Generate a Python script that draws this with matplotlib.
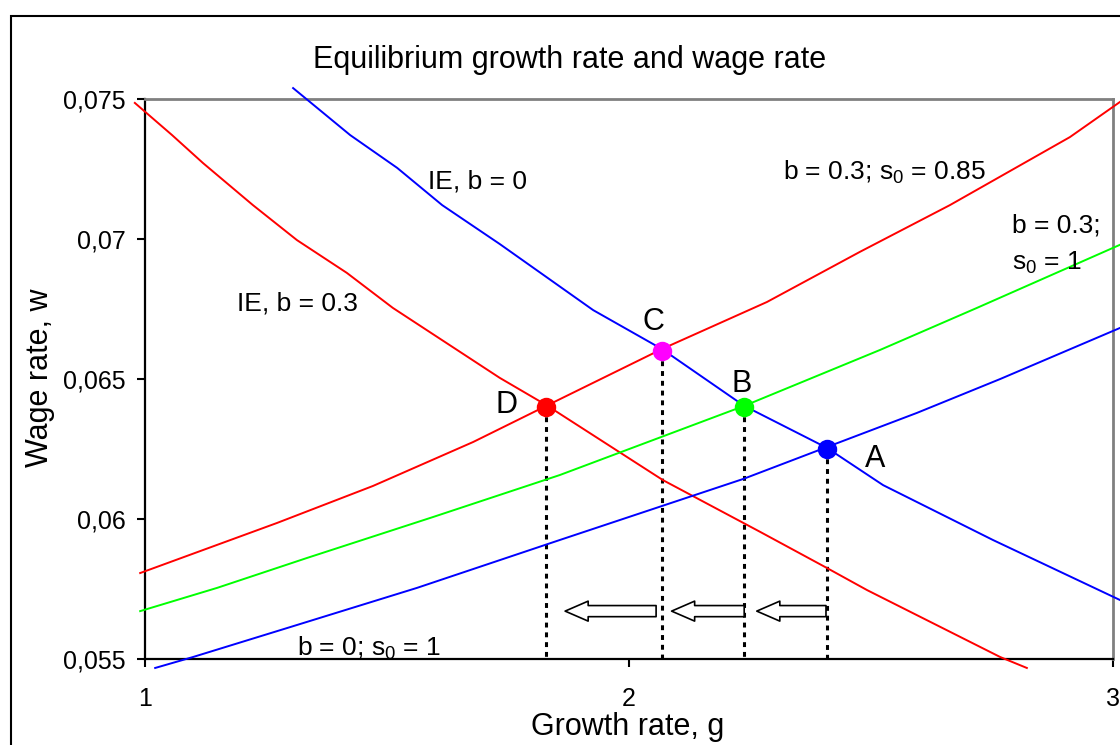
import matplotlib
matplotlib.use('Agg')
import matplotlib.pyplot as plt
from matplotlib.patches import Rectangle

# Curves (growth rate g, wage rate w)
ie_b03_g = [0.979, 1.056, 1.120, 1.223, 1.314, 1.417, 1.512, 1.733, 1.829, 2.070, 2.271, 2.409, 2.492, 2.767, 2.822]
ie_b03_w = [0.07486, 0.07371, 0.07271, 0.07121, 0.06996, 0.06879, 0.06754, 0.06504, 0.06407, 0.06139, 0.05954, 0.05825, 0.05746, 0.05507, 0.05468]

ie_b0_g = [1.306, 1.424, 1.521, 1.614, 1.733, 1.926, 2.068, 2.238, 2.409, 2.525, 2.752, 3.014]
ie_b0_w = [0.07539, 0.07371, 0.07254, 0.07121, 0.06982, 0.06746, 0.06607, 0.06404, 0.06254, 0.06121, 0.05925, 0.05711]

s085_g = [0.990, 1.273, 1.471, 1.678, 1.829, 2.068, 2.285, 2.477, 2.663, 2.911, 3.014]
s085_w = [0.05807, 0.05986, 0.06118, 0.06275, 0.06404, 0.06607, 0.06775, 0.06954, 0.07121, 0.07364, 0.07489]

b03_s1_g = [0.990, 1.149, 1.335, 1.595, 1.857, 2.238, 2.519, 2.719, 3.014]
b03_s1_w = [0.05671, 0.05754, 0.05861, 0.06007, 0.06157, 0.06404, 0.06604, 0.06754, 0.06979]

b0_s1_g = [1.021, 1.099, 1.300, 1.562, 1.857, 2.236, 2.409, 2.595, 2.767, 3.014]
b0_s1_w = [0.05468, 0.05507, 0.05614, 0.05754, 0.05925, 0.06143, 0.06257, 0.06379, 0.06500, 0.06682]

# equilibrium points
pt_names = ['D', 'C', 'B', 'A']
pt_g = [1.829, 2.068, 2.238, 2.409]
pt_w = [0.064, 0.066, 0.064, 0.0625]
pt_colors = ['#ff0000', '#ff00ff', '#00ff00', '#0000ff']

# hollow arrows (tail -> tip) along the g axis
arrow_tail = [2.056, 2.238, 2.407]
arrow_tip = [1.868, 2.088, 2.264]
arrow_w = 0.05671

x_ticks = [1, 2, 3]
x_tick_labels = ['1', '2', '3']
y_ticks = [0.055, 0.06, 0.065, 0.07, 0.075]
y_tick_labels = ['0,055', '0,06', '0,065', '0,07', '0,075']

plt.rcParams['font.family'] = ['Liberation Sans', 'DejaVu Sans']
plt.rcParams['mathtext.fontset'] = 'custom'
plt.rcParams['mathtext.rm'] = 'Liberation Sans'

W, H = 1120, 745
fig = plt.figure(figsize=(W / 100, H / 100), dpi=100)
ax = fig.add_axes([145 / W, 1 - 659 / H, (1113 - 145) / W, (659 - 99) / H])


def fx(px):
    return px / W


def fy(py):
    return 1 - py / H


# outer frame (cut off at right and bottom)
fig.add_artist(Rectangle((fx(11), -0.05), 1.2, fy(16) + 0.05, transform=fig.transFigure,
                         fill=False, ec='black', lw=1.5))

lw = 1.4
ax.plot(ie_b03_g, ie_b03_w, color='#ff0000', lw=lw, clip_on=False, zorder=3)
ax.plot(ie_b0_g, ie_b0_w, color='#0000ff', lw=lw, clip_on=False, zorder=3)
ax.plot(s085_g, s085_w, color='#ff0000', lw=lw, clip_on=False, zorder=3)
ax.plot(b03_s1_g, b03_s1_w, color='#00ff00', lw=lw, clip_on=False, zorder=3)
ax.plot(b0_s1_g, b0_s1_w, color='#0000ff', lw=lw, clip_on=False, zorder=3)

for g, w, c in zip(pt_g, pt_w, pt_colors):
    ax.plot([g, g], [w, y_ticks[0]], color='black', lw=2.2, linestyle=(0, (1.6, 1.6)), zorder=2)
    ax.plot(g, w, 'o', color=c, ms=14, mew=0, zorder=5)

for tail, tip in zip(arrow_tail, arrow_tip):
    ax.annotate('', xy=(tip, arrow_w), xytext=(tail, arrow_w),
                arrowprops=dict(arrowstyle='simple,head_length=0.83,head_width=0.72,tail_width=0.40',
                                fc='white', ec='black', lw=1.2, shrinkA=0, shrinkB=0,
                                mutation_scale=20),
                annotation_clip=False, zorder=4)

ax.set_xlim(1, 3)
ax.set_ylim(0.055, 0.075)
ax.set_xticks(x_ticks)
ax.set_xticklabels(x_tick_labels)
ax.set_yticks(y_ticks)
ax.set_yticklabels(y_tick_labels)
ax.tick_params(direction='out', length=6, width=1.5, labelsize=18, color='black')
ax.tick_params(axis='x', pad=14)
ax.tick_params(axis='y', pad=8)

for side in ['left', 'bottom']:
    ax.spines[side].set_color('black')
    ax.spines[side].set_linewidth(1.6)
for side in ['top', 'right']:
    ax.spines[side].set_color('#808080')
    ax.spines[side].set_linewidth(2)

# titles and labels
fig.text(fx(313), fy(68), 'Equilibrium growth rate and wage rate', fontsize=22,
         ha='left', va='baseline')
fig.text(fx(628), fy(735), 'Growth rate, g', fontsize=22, ha='center', va='baseline')
fig.text(fx(48), fy(378), 'Wage rate, w', fontsize=22, ha='center', va='baseline',
         rotation=90, rotation_mode='anchor')

sub0 = r'$_{\mathregular{0}}$'
notes = [
    (428, 188, 'IE, b = 0'),
    (237, 310, 'IE, b = 0.3'),
    (783, 180, 'b = 0.3; s' + sub0 + ' = 0.85'),
    (1012, 232, 'b = 0.3;'),
    (1012, 270, 's' + sub0 + ' = 1'),
    (297, 655, 'b = 0; s' + sub0 + ' = 1'),
]
for px, py, s in notes:
    fig.text(fx(px), fy(py), s, fontsize=19, ha='left', va='baseline')

letter_pos = {'A': (865, 467), 'B': (732, 392), 'C': (643, 330), 'D': (495, 413)}
for name in pt_names:
    px, py = letter_pos[name]
    fig.text(fx(px), fy(py), name, fontsize=22, ha='left', va='baseline')

fig.savefig('out.png', dpi=100)
